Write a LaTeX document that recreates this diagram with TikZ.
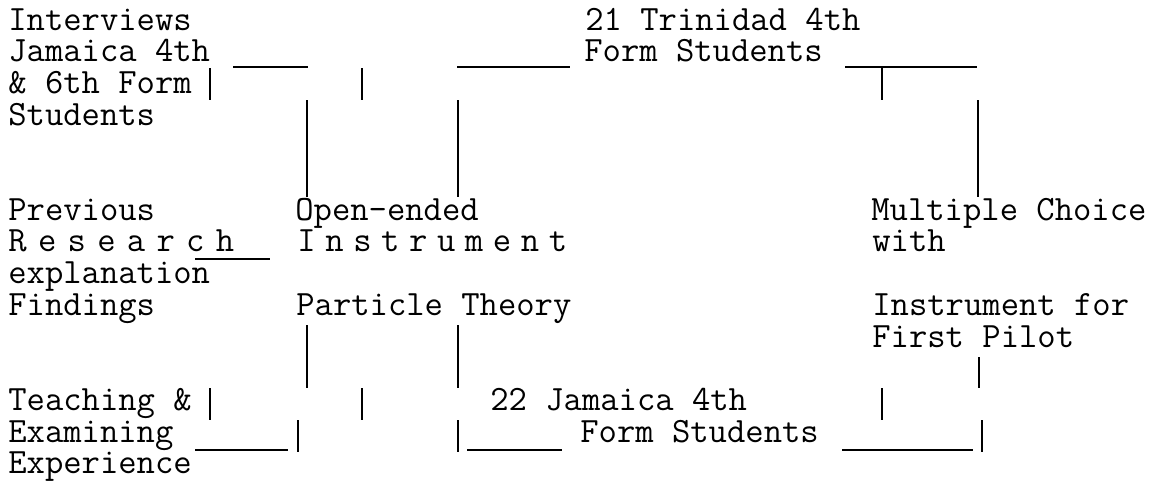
\documentclass[tikz,border=0pt]{standalone}
\usepackage{fontspec}
\usetikzlibrary{positioning}
\makeatletter
\newcommand\spreadword[2]{\@tfor\spreadch:=#2\do{\spreadch\kern#1}}
\makeatother

\begin{document}
\begin{tikzpicture}[x=0.5pt,y=-0.5pt,
  lbl/.style={anchor=base west,inner sep=0pt,font=\ttfamily\fontsize{17.8pt}{18pt}\selectfont},
  rule/.style={line width=0.7pt}]
  \useasboundingbox (0,0) rectangle (1161,487);
  % left column
  \node[lbl] (interviews) at (8,30) {Interviews};
  \node[lbl] (jamaica) at (8,61.7) {Jamaica 4th};
  \node[lbl] (sixth) at (8,93.4) {\& 6th Form};
  \node[lbl] (students) at (8,125.1) {Students};
  \node[lbl] (previous) at (8,220.2) {Previous};
  \node[lbl] (research) at (8,251.9) {\spreadword{5.65pt}{Research}};
  \node[lbl] (explanation) at (8,283.6) {explanation};
  \node[lbl] (findings) at (8,315.3) {Findings};
  \node[lbl] (teaching) at (8,410.4) {Teaching \&};
  \node[lbl] (examining) at (8,442.1) {Examining};
  \node[lbl] (experience) at (8,473.8) {Experience};
  % open-ended instrument
  \node[lbl] (openended) at (295,220.2) {Open-ended};
  \node[lbl] (instrument) at (297,251.9) {\spreadword{4.8pt}{Instrument}};
  \node[lbl] (particle) at (296,315.3) {Particle Theory};
  % samples
  \node[lbl] (trinidad) at (585,30) {21 Trinidad 4th};
  \node[lbl] (trinform) at (584,61.7) {Form Students};
  \node[lbl] (jamsample) at (490,410.4) {22 Jamaica 4th};
  \node[lbl] (jamform) at (580,442.1) {Form Students};
  % multiple choice instrument
  \node[lbl] (multiple) at (871,220.2) {Multiple Choice};
  \node[lbl] (with) at (872,251.9) {with};
  \node[lbl] (pilotinst) at (872,315.3) {Instrument for};
  \node[lbl] (pilot) at (872,347) {First Pilot};
  % top connectors
  \draw[rule] (233,67) -- (308,67);
  \draw[rule] (457,67) -- (570,67);
  \draw[rule] (845,67) -- (977,67);
  \draw[rule] (210,68) -- (210,100);
  \draw[rule] (362,68) -- (362,100);
  \draw[rule] (307,100) -- (307,197);
  \draw[rule] (458,100) -- (458,197);
  \draw[rule] (882,67) -- (882,100);
  \draw[rule] (978,100) -- (978,197);
  % underline after research
  \draw[rule] (195,259) -- (270,259);
  % bottom connectors
  \draw[rule] (307,325) -- (307,388);
  \draw[rule] (458,325) -- (458,388);
  \draw[rule] (979,357) -- (979,388);
  \draw[rule] (210,388) -- (210,420);
  \draw[rule] (362,388) -- (362,420);
  \draw[rule] (882,388) -- (882,420);
  \draw[rule] (195,450) -- (288,450);
  \draw[rule] (298,420) -- (298,452);
  \draw[rule] (458,420) -- (458,452);
  \draw[rule] (467,450) -- (562,450);
  \draw[rule] (842,450) -- (973,450);
  \draw[rule] (982,420) -- (982,452);
\end{tikzpicture}
\end{document}
